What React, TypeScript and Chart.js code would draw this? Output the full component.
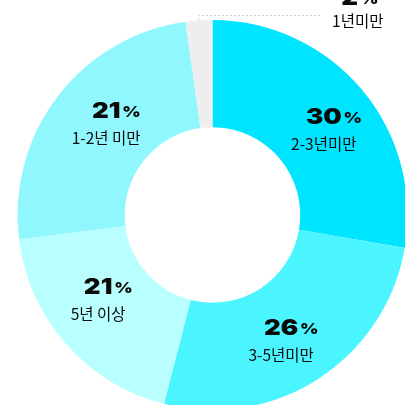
import React, { useEffect, useRef } from 'react';
import { Chart, ArcElement, DoughnutController } from 'chart.js';

Chart.register(ArcElement, DoughnutController);

const categories = ['2-3년미만', '3-5년미만', '5년 이상', '1-2년 미만', '1년미만'];
const sliceValues = [27.7, 26.3, 19.0, 24.8, 2.2];
const percentLabels = [30, 26, 21, 21, 2];
const sliceColors = ['#00E5FF', '#4BF5FF', '#BAFFFF', '#90F7FF', '#EEEEEE'];

const NUM_FONT = '900 22px Inter, "DejaVu Sans", sans-serif';
const PCT_FONT = '900 15px Inter, "DejaVu Sans", sans-serif';
const SUB_FONT = '15.5px "Noto Sans CJK KR", "Noto Sans", sans-serif';
const TEXT_COLOR = '#0a0a0a';
const WIDE = 1.18;

function drawNumber(ctx: CanvasRenderingContext2D, cx: number, baseline: number, num: string) {
  ctx.save();
  ctx.fillStyle = TEXT_COLOR;
  ctx.textBaseline = 'alphabetic';
  ctx.translate(cx, baseline);
  ctx.scale(WIDE, 1);
  ctx.font = NUM_FONT;
  ctx.textAlign = 'center';
  const w = ctx.measureText(num).width;
  ctx.fillText(num, 0, 0);
  ctx.font = PCT_FONT;
  ctx.textAlign = 'left';
  ctx.fillText('%', w / 2 + 1.5, -1);
  ctx.restore();
}

const labelPlugin = {
  id: 'sliceLabels',
  afterDatasetsDraw(chart: any) {
    const ctx: CanvasRenderingContext2D = chart.ctx;
    const meta = chart.getDatasetMeta(0);
    const total = sliceValues.reduce((a, b) => a + b, 0);
    const labelTotal = percentLabels.reduce((a, b) => a + b, 0);
    let labelCum = 0;
    ctx.save();
    meta.data.forEach((el: any, i: number) => {
      const share = sliceValues[i] / total;
      const { x, y, startAngle, endAngle, innerRadius, outerRadius } = el.getProps(
        ['x', 'y', 'startAngle', 'endAngle', 'innerRadius', 'outerRadius'],
        true
      );
      const labelMid = -Math.PI / 2 + 2 * Math.PI * ((labelCum + percentLabels[i] / 2) / labelTotal);
      labelCum += percentLabels[i];
      if (share >= 0.05) {
        const arcMid = (startAngle + endAngle) / 2;
        const a = (arcMid + labelMid) / 2;
        const r = (innerRadius + outerRadius) / 2;
        const px = x + Math.cos(a) * r;
        const py = y + Math.sin(a) * r;
        const baseline = py - 4;
        drawNumber(ctx, px, baseline, String(percentLabels[i]));
        ctx.font = SUB_FONT;
        ctx.textAlign = 'center';
        ctx.textBaseline = 'middle';
        ctx.fillStyle = TEXT_COLOR;
        ctx.fillText(categories[i], px, baseline + 20.5);
      } else {
        const a = (startAngle + endAngle) / 2;
        const px = x + Math.cos(a) * outerRadius;
        const py = y + Math.sin(a) * outerRadius;
        const ly = py - 5;
        const lx = px + 123;
        ctx.save();
        ctx.strokeStyle = '#c6d6e6';
        ctx.lineWidth = 1;
        ctx.setLineDash([2, 2]);
        ctx.beginPath();
        ctx.moveTo(px, py);
        ctx.lineTo(px, ly);
        ctx.lineTo(lx, ly);
        ctx.stroke();
        ctx.restore();
        ctx.font = SUB_FONT;
        const sw = ctx.measureText(categories[i]).width;
        const cx = lx + 10 + sw / 2;
        drawNumber(ctx, cx - 8, ly - 10, String(percentLabels[i]));
        ctx.font = SUB_FONT;
        ctx.textAlign = 'center';
        ctx.textBaseline = 'middle';
        ctx.fillStyle = TEXT_COLOR;
        ctx.fillText(categories[i], cx, ly + 5.5);
      }
    });
    ctx.restore();
  },
};

export default function App() {
  const canvasRef = useRef<HTMLCanvasElement | null>(null);

  useEffect(() => {
    const canvas = canvasRef.current;
    if (!canvas) return;
    const chart = new Chart(canvas, {
      type: 'doughnut',
      data: {
        labels: categories,
        datasets: [
          {
            data: sliceValues,
            backgroundColor: sliceColors,
            borderWidth: 0,
            hoverBorderWidth: 0,
            hoverOffset: 0,
          },
        ],
      },
      options: {
        responsive: false,
        animation: false,
        events: [],
        cutout: '45%',
        layout: { padding: { left: 17.5, right: 17.5, top: 20, bottom: 20 } },
        plugins: {
          legend: { display: false },
          tooltip: { enabled: false },
        },
      },
      plugins: [labelPlugin],
    });
    return () => chart.destroy();
  }, []);

  return (
    <div
      style={{
        position: 'fixed',
        left: 0,
        top: 0,
        width: 405,
        height: 405,
        overflow: 'hidden',
        background: '#ffffff',
      }}
    >
      <canvas
        ref={canvasRef}
        width={425}
        height={430}
        style={{ display: 'block', width: 425, height: 430 }}
      />
    </div>
  );
}
